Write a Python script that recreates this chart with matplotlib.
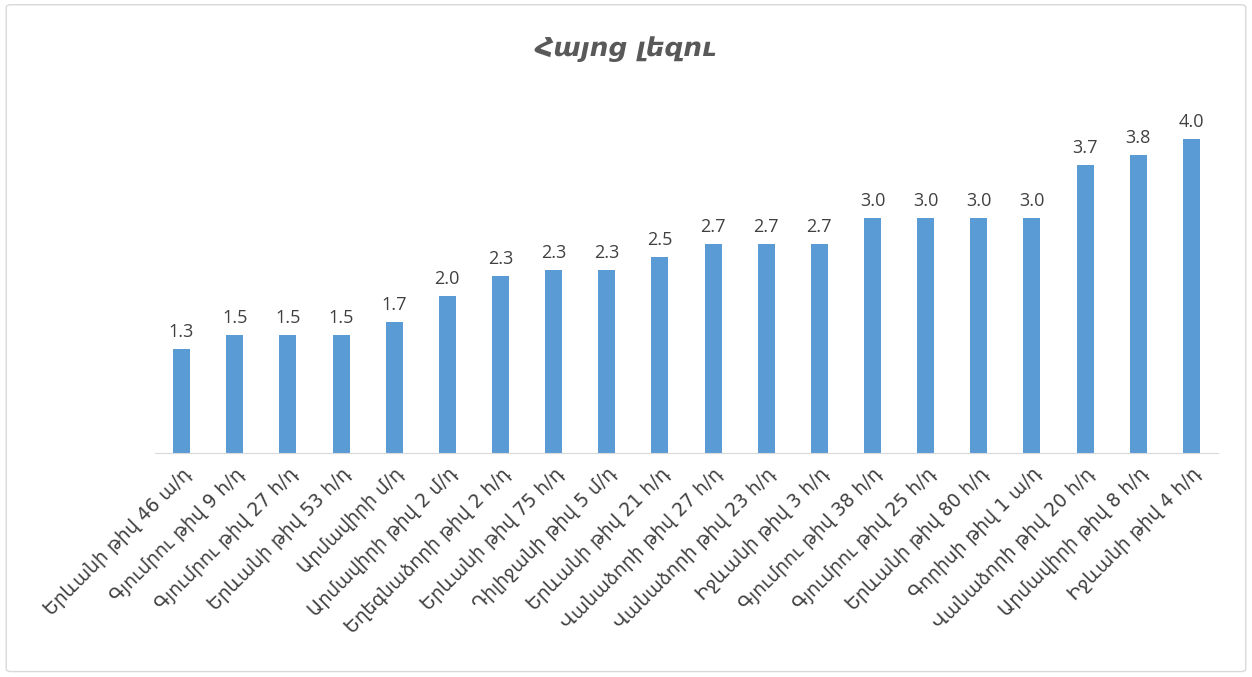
import matplotlib
matplotlib.use("Agg")
import matplotlib.pyplot as plt
from matplotlib.patches import FancyBboxPatch

plt.rcParams['font.family'] = ['Open Sans', 'DejaVu Sans']

title = "Հայոց լեզու"
schools = [
    "Երևանի թիվ 46 ա/դ",
    "Գյումրու թիվ 9 հ/դ",
    "Գյումրու թիվ 27 հ/դ",
    "Երևանի թիվ 53 հ/դ",
    "Արմավիրի մ/դ",
    "Արմավիրի թիվ 2 մ/դ",
    "Եղեգնաձորի թիվ 2 հ/դ",
    "Երևանի թիվ 75 հ/դ",
    "Դիլիջանի թիվ 5 մ/դ",
    "Երևանի թիվ 21 հ/դ",
    "Վանաձորի թիվ 27 հ/դ",
    "Վանաձորի թիվ 23 հ/դ",
    "Իջևանի թիվ 3 հ/դ",
    "Գյումրու թիվ 38 հ/դ",
    "Գյումրու թիվ 25 հ/դ",
    "Երևանի թիվ 80 հ/դ",
    "Գորիսի թիվ 1 ա/դ",
    "Վանաձորի թիվ 20 հ/դ",
    "Արմավիրի թիվ 8 հ/դ",
    "Իջևանի թիվ 4 հ/դ",
]
scores = [1.33, 1.5, 1.5, 1.5, 1.67, 2.0, 2.26, 2.33, 2.33, 2.5,
          2.67, 2.67, 2.67, 3.0, 3.0, 3.0, 3.0, 3.67, 3.8, 4.0]

bar_color = "#5B9BD5"
text_color = "#404040"

fig = plt.figure(figsize=(12.52, 6.77), dpi=100)
fig.patches.append(FancyBboxPatch((0.005, 0.008), 0.99, 0.985,
                                  boxstyle="round,pad=0,rounding_size=0.004",
                                  transform=fig.transFigure, fill=False,
                                  edgecolor="#d9d9d9", linewidth=1))
ax = fig.add_axes([0.1238, 0.3309, 0.849, 0.5214])

x = range(len(schools))
bars = ax.bar(x, scores, width=0.32, color=bar_color)
for b, v in zip(bars, scores):
    ax.text(b.get_x() + b.get_width() / 2, v + 0.1, f"{v:.1f}",
            ha="center", va="bottom", fontsize=13, color=text_color)

ax.set_xlim(-0.5, len(schools) - 0.5)
ax.set_ylim(0, 4.5)
ax.set_yticks([])
ax.set_xticks(list(x))
ax.set_xticklabels(schools, rotation=45, ha="right", rotation_mode="anchor",
                   fontsize=13.5, color=text_color, family="DejaVu Sans")
ax.tick_params(axis="x", length=0, pad=8)
for s in ["top", "right", "left"]:
    ax.spines[s].set_visible(False)
ax.spines["bottom"].set_color("#d9d9d9")

fig.text(0.5, 0.928, title, ha="center", va="center", fontsize=19,
         fontstyle="italic", fontweight="bold", color="#595959",
         family="DejaVu Sans")

fig.savefig("out.png", dpi=100)
